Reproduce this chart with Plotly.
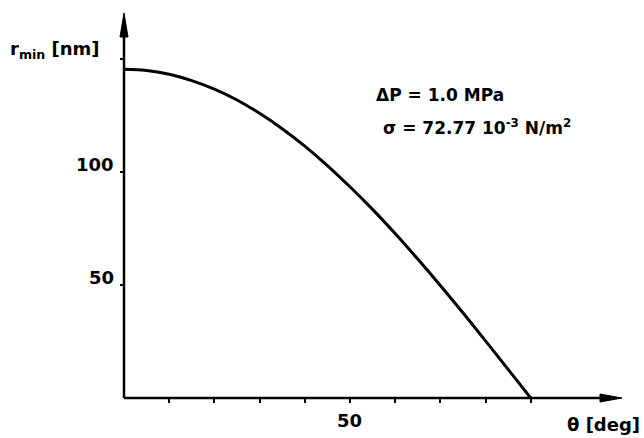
import plotly.graph_objects as go

# Data
theta_deg = [0, 5, 10, 15, 20, 25, 30, 35, 40, 45, 50, 55, 60, 65, 70, 75, 80, 85, 90]
r_min_nm = [145.5, 145.0, 143.3, 140.5, 136.7, 131.9, 126.0, 119.2, 111.5, 102.9,
            93.5, 83.5, 72.8, 61.5, 49.8, 37.7, 25.3, 12.7, 0.0]

x_tick_vals = [10, 20, 30, 40, 50, 60, 70, 80, 90]
x_labelled = {50: "50"}
y_tick_vals = [50, 100, 150]
y_labelled = {50: "50", 100: "100"}

X_MAX = 110.2
Y_MAX = 170.4
FONT = "DejaVu Sans"

W, H = 644, 438
L, R, T, B = 124, 22, 13, 40
pw, ph = W - L - R, H - T - B

fig = go.Figure()
fig.add_trace(go.Scatter(
    x=theta_deg, y=r_min_nm, mode="lines",
    line=dict(color="black", width=3, shape="spline"),
    hoverinfo="skip", showlegend=False,
))

fig.update_layout(
    width=W, height=H,
    margin=dict(l=L, r=R, t=T, b=B),
    paper_bgcolor="white", plot_bgcolor="white",
    xaxis=dict(range=[0, X_MAX], showgrid=False, zeroline=False,
               showline=False, tickmode="array", tickvals=x_tick_vals,
               ticks="outside", ticklen=4, tickwidth=2, tickcolor="black",
               showticklabels=False),
    yaxis=dict(range=[0, Y_MAX], showgrid=False, zeroline=False,
               showline=False, tickmode="array", tickvals=y_tick_vals,
               ticks="outside", ticklen=3, tickwidth=2, tickcolor="black",
               showticklabels=False),
)

# axes as lines with arrowheads (paper coordinates, from pixel sizes)
def px_x(p):
    return p / pw

def px_y(p):
    return p / ph

shapes = [
    dict(type="line", xref="paper", yref="paper", x0=0, y0=0, x1=1 - px_x(14), y1=0,
         line=dict(color="black", width=2.5)),
    dict(type="line", xref="paper", yref="paper", x0=0, y0=0, x1=0, y1=1 - px_y(16),
         line=dict(color="black", width=2.5)),
    dict(type="path", xref="paper", yref="paper",
         path=f"M 1 0 L {1 - px_x(22)} {px_y(4)} L {1 - px_x(22)} {-px_y(4)} Z",
         fillcolor="black", line=dict(color="black", width=1)),
    dict(type="path", xref="paper", yref="paper",
         path=f"M 0 1 L {px_x(4)} {1 - px_y(24)} L {-px_x(4)} {1 - px_y(24)} Z",
         fillcolor="black", line=dict(color="black", width=1)),
]

annotations = []
tick_font = dict(family=FONT, size=18, color="black", weight="bold")
for v in x_tick_vals:
    if v in x_labelled:
        annotations.append(dict(x=v, y=0, xref="x", yref="y", text=x_labelled[v],
                                showarrow=False, yanchor="middle",
                                yshift=-22, font=tick_font))
for v in y_tick_vals:
    if v in y_labelled:
        annotations.append(dict(x=0, y=v, xref="x", yref="y", text=y_labelled[v],
                                showarrow=False, xanchor="right",
                                xshift=-8, yshift=8, font=tick_font))

def pix(x, y):
    return (x - L) / pw, (H - B - y) / ph

label_font = dict(family=FONT, size=18, color="black", weight="bold")
text_font = dict(family=FONT, size=17, color="black", weight="bold")
texts = [
    (642, 425, "θ [deg]", "right", label_font),
    (8, 50, "r<sub>min</sub> [nm]", "left", label_font),
    (374, 95, "ΔP = 1.0 MPa", "left", text_font),
    (381, 127, "σ = 72.77 10<sup>-3</sup> N/m<sup>2</sup>", "left", text_font),
]
for x, y, t, anc, f in texts:
    px, py = pix(x, y)
    annotations.append(dict(x=px, y=py, xref="paper", yref="paper", text=t,
                            showarrow=False, xanchor=anc, yanchor="middle", font=f))

fig.update_layout(annotations=annotations, shapes=shapes)
fig.write_html("out.html")
